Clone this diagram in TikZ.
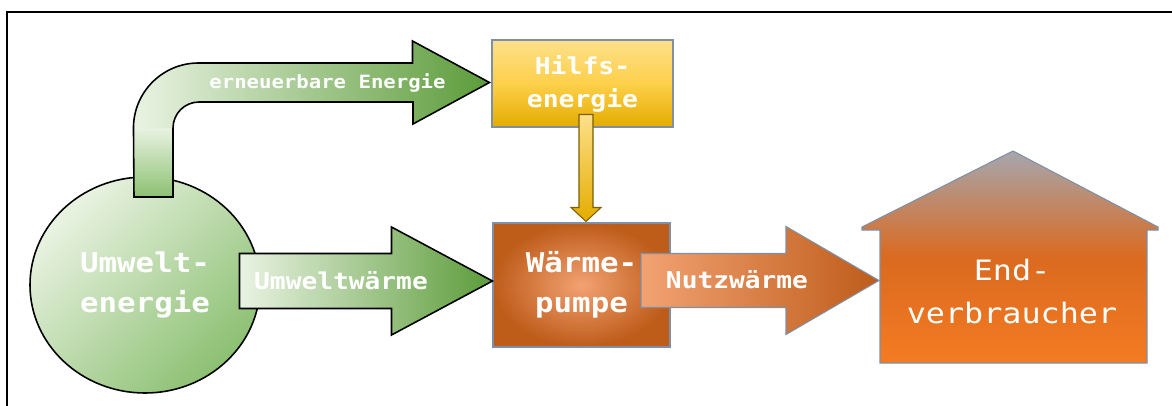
\documentclass[tikz,border=0pt]{standalone}
\usepackage{fontspec}
\newfontfamily\diafont[FakeStretch=1.13]{DejaVu Sans Mono}
\usetikzlibrary{calc,shapes.geometric}
\usepackage{tkz-euclide}

\definecolor{gruenhell}{HTML}{EAF3E3}
\definecolor{gruenmittel}{HTML}{8CC072}
\definecolor{gruendunkel}{HTML}{5C9C3A}
\definecolor{gelbhell}{HTML}{FDE08A}
\definecolor{gelbmitte}{HTML}{FDD04A}
\definecolor{gelbdunkel}{HTML}{E4AC00}
\definecolor{orangehell}{HTML}{F2A272}
\definecolor{orangedunkel}{HTML}{BE5C1A}
\definecolor{orangemitte}{HTML}{DA6A20}
\definecolor{orangehaus}{HTML}{F47B22}
\definecolor{grauhaus}{HTML}{A6A6AE}
\definecolor{randblau}{HTML}{7F8FA6}

\begin{document}
\begin{tikzpicture}[
  gruenpfeil/.style={draw=black,line width=0.9pt,left color=gruenhell,right color=gruendunkel},
  rand/.style={draw=randblau,line width=0.6pt},
  weiss/.style={text=white,align=center,inner sep=0pt}
]
\useasboundingbox (0,0) rectangle (23.44,8.10);

\tkzDefPoints{0.14/7.86/F1,23.44/7.86/F2,0.14/0/F3}
\tkzDrawSegments[line width=1.2pt,color=black,line cap=rect](F1,F2 F1,F3)

% Kreis und Kaesten
\node[ellipse,draw=black,line width=0.9pt,minimum width=4.6cm,minimum height=4.32cm,
  left color=gruenhell,right color=gruenmittel,shading angle=45,weiss,
  font=\diafont\bfseries\fontsize{15.5}{22.7}\selectfont] (umwelt) at (2.9,2.4) {Umwelt-\\energie};
\node[rand,minimum width=3.62cm,minimum height=1.74cm,top color=gelbhell,bottom color=gelbdunkel,
  middle color=gelbmitte,weiss,font=\diafont\bfseries\fontsize{13.3}{18.7}\selectfont] (hilfs) at (11.65,6.43) {Hilfs-\\energie};
\node[rand,minimum width=3.54cm,minimum height=2.48cm,inner color=orangehell,outer color=orangedunkel,
  weiss,font=\diafont\bfseries\fontsize{15.5}{22.7}\selectfont] (waerme) at (11.63,2.40) {W\"arme-\\pumpe};

% Haus
\tkzDefPoints{17.24/3.56/H1,20.26/5.08/H2,23.16/3.56/H3,23.16/3.50/H4,22.94/3.50/H5,
  22.94/0.84/H6,17.60/0.84/H7,17.60/3.50/H8,17.24/3.50/H9}
\draw[rand,top color=grauhaus,bottom color=orangehaus,middle color=orangemitte]
  (H1) -- (H2) -- (H3) -- (H4) -- (H5) -- (H6) -- (H7) -- (H8) -- (H9) -- cycle;
\node[weiss,font=\diafont\fontsize{16}{24.4}\selectfont] (haus) at (20.24,2.27) {End-\\verbraucher};
\coordinate (hausein) at (17.58,2.49);

% Pfeile
\coordinate (eneufuss) at (2.68,4.16);
\coordinate (eneuspitze) at ($(hilfs.west)+(-0.04,0.02)$);
\shade[top color=gruenhell,bottom color=gruenmittel] (eneufuss) rectangle ++(0.78,1.40);
\shade[left color=gruenhell,right color=gruendunkel] ($(eneufuss)+(0,1.38)$)
  arc[start angle=180,end angle=90,radius=1.3] -- ++(4.28,0) -- ++(0,0.44) -- (eneuspitze)
  -- ++(-1.54,-0.83) -- ++(0,0.44) -- ++(-4.28,0) arc[start angle=90,end angle=180,radius=0.52] -- cycle;
\draw[black,line width=0.9pt] (eneuspitze) -- ++(-1.54,0.83) -- ++(0,-0.44) -- ++(-4.28,0)
  arc[start angle=90,end angle=180,radius=1.3] -- (eneufuss) -- ++(0.78,0) -- ++(0,1.38)
  arc[start angle=180,end angle=90,radius=0.52] -- ++(4.28,0) -- ++(0,-0.44) -- cycle;
\draw[gruenpfeil] ($(waerme.west)+(0,0.08)$) -- ++(-2.02,1.08) -- ++(0,-0.53) -- ++(-3.04,0)
  -- ++(0,-1.10) -- ++(3.04,0) -- ++(0,-0.53) -- cycle;
\draw[draw=black!45!gelbdunkel,line width=0.6pt,top color=gelbhell,bottom color=gelbdunkel]
  ($(waerme.north)+(0.09,0.02)$) -- ++(-0.30,0.28) -- ++(0.16,0) -- ++(0,1.86) -- ++(0.28,0)
  -- ++(0,-1.86) -- ++(0.16,0) -- cycle;
\draw[rand,left color=orangehell,right color=orangedunkel] (hausein) -- ++(-1.86,1.08) -- ++(0,-0.54)
  -- ++(-2.90,0) -- ++(0,-1.08) -- ++(2.90,0) -- ++(0,-0.54) -- cycle;

% Beschriftung
\node[weiss,font=\diafont\bfseries\fontsize{10.4}{12}\selectfont] (erneuerbar) at (6.55,6.45) {erneuerbare Energie};
\node[weiss,font=\diafont\bfseries\fontsize{13.2}{15}\selectfont] (umweltw) at (6.82,2.48) {Umweltw\"arme};
\node[weiss,font=\diafont\bfseries\fontsize{13.2}{15}\selectfont] (nutzw) at (14.74,2.50) {Nutzw\"arme};

\end{tikzpicture}
\end{document}
